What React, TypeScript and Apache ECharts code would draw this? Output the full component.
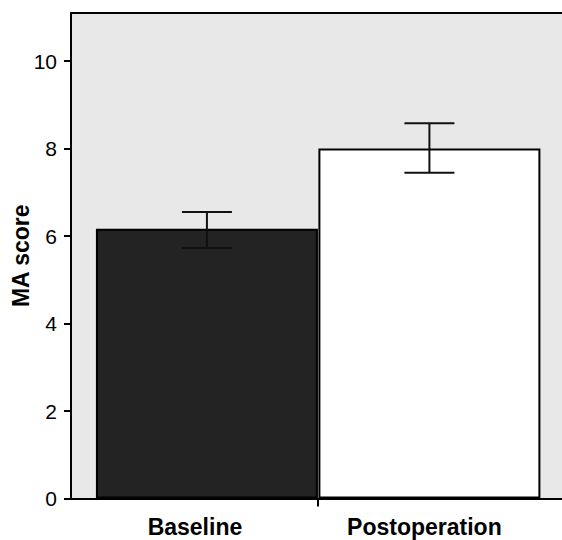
import React, { useEffect, useRef } from "react";
import * as echarts from "echarts";

const categories = ["Baseline", "Postoperation"];
const positions = [1, 2];
const means = [6.17, 8.0];
const errLow = [5.73, 7.45];
const errHigh = [6.55, 8.58];
const yTicks = [0, 2, 4, 6, 8, 10];
const barColors = ["#232323", "#ffffff"];

const FONT = "'Liberation Sans', Arial, Helvetica, sans-serif";

export default function App() {
  const ref = useRef<HTMLDivElement>(null);
  useEffect(() => {
    if (!ref.current) return;
    const chart = echarts.init(ref.current, null, { renderer: "svg" });
    const xMin = 0.389;
    const xMax = 2.596;
    chart.setOption({
      animation: false,
      backgroundColor: "#ffffff",
      grid: {
        left: 71,
        right: 0,
        top: 13,
        bottom: 41.5,
        show: true,
        backgroundColor: "#e8e8e8",
        borderWidth: 0,
        containLabel: false,
        outerBoundsMode: "none",
      },
      xAxis: [
        {
          type: "value",
          min: xMin,
          max: xMax,
          splitLine: { show: false },
          axisLine: { show: true, lineStyle: { color: "#000", width: 2 } },
          axisTick: {
            show: true,
            customValues: [1.5],
            length: 8,
            lineStyle: { color: "#000", width: 2 },
          },
          axisLabel: {
            show: true,
            customValues: positions,
            margin: 17,
            formatter: (v: number) => {
              const i = positions.indexOf(v);
              if (i < 0) return "";
              return i === 0 ? "{a|" + categories[i] + "}" : "{b|" + categories[i] + "}";
            },
            rich: {
              a: {
                fontFamily: FONT,
                fontSize: 23,
                fontWeight: "bold",
                color: "#000",
                padding: [0, 24, 0, 0],
              },
              b: {
                fontFamily: FONT,
                fontSize: 23,
                fontWeight: "bold",
                color: "#000",
                padding: [0, 10, 0, 0],
              },
            },
          },
        },
        {
          type: "value",
          position: "top",
          min: xMin,
          max: xMax,
          splitLine: { show: false },
          axisLine: { show: true, lineStyle: { color: "#000", width: 2 } },
          axisTick: { show: false },
          axisLabel: { show: false },
        },
      ],
      yAxis: {
        type: "value",
        min: 0,
        max: 11.1,
        name: "MA score",
        nameLocation: "middle",
        nameGap: 39,
        nameMoveOverlap: false,
        nameTextStyle: {
          fontFamily: FONT,
          fontSize: 23,
          fontWeight: "bold",
          color: "#000",
        },
        splitLine: { show: false },
        axisLine: { show: true, lineStyle: { color: "#000", width: 2 } },
        axisTick: {
          show: true,
          customValues: yTicks,
          length: 7,
          lineStyle: { color: "#000", width: 2 },
        },
        axisLabel: {
          customValues: yTicks,
          margin: 14,
          fontFamily: FONT,
          fontSize: 21,
          color: "#000",
        },
      },
      series: [
        {
          type: "bar",
          xAxisIndex: 0,
          barWidth: 222,
          data: positions.map((p, i) => ({
            value: [p, means[i]],
            itemStyle: {
              color: barColors[i],
              borderColor: "#000",
              borderWidth: 2,
            },
          })),
          z: 2,
        },
        {
          type: "custom",
          xAxisIndex: 0,
          z: 5,
          data: positions.map((p, i) => [p, errLow[i], errHigh[i]]),
          renderItem: (params: any, api: any) => {
            const x = api.value(0);
            const top = api.coord([x, api.value(2)]);
            const bot = api.coord([x, api.value(1)]);
            const hw = 25;
            const style = { stroke: "#111", lineWidth: 2 };
            return {
              type: "group",
              children: [
                { type: "line", shape: { x1: top[0], y1: top[1], x2: bot[0], y2: bot[1] }, style },
                { type: "line", shape: { x1: top[0] - hw, y1: top[1], x2: top[0] + hw, y2: top[1] }, style },
                { type: "line", shape: { x1: bot[0] - hw, y1: bot[1], x2: bot[0] + hw, y2: bot[1] }, style },
              ],
            };
          },
        },
      ],
    });
    return () => chart.dispose();
  }, []);
  return (
    <div
      ref={ref}
      style={{ position: "fixed", left: 0, top: 0, width: 562, height: 540 }}
    />
  );
}
